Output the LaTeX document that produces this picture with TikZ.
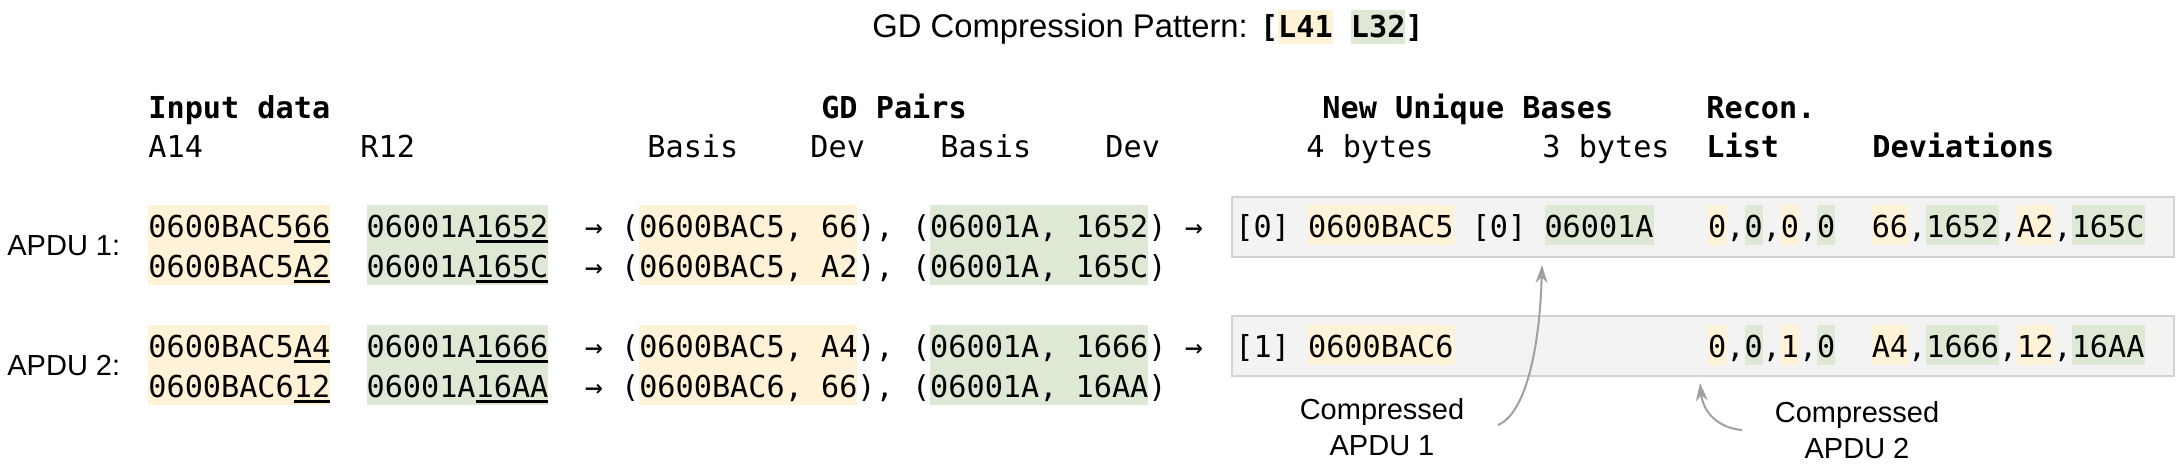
\documentclass[tikz,border=0pt]{standalone}
\usepackage{fontspec}
\setmainfont{Liberation Sans}
\newfontfamily\monof{DejaVu Sans Mono}
\usetikzlibrary{arrows.meta}
\definecolor{hyc}{HTML}{FFF2D6}
\definecolor{hgc}{HTML}{DDE8D5}
\definecolor{boxfill}{HTML}{F3F3F3}
\definecolor{boxline}{HTML}{D2D2D2}
\definecolor{arrowgray}{HTML}{A0A0A0}
\newcommand\hlst{\rule[-4pt]{0pt}{20pt}}
\newcommand\hy[1]{{\setlength\fboxsep{0pt}\colorbox{hyc}{\hlst#1}}}
\newcommand\hg[1]{{\setlength\fboxsep{0pt}\colorbox{hgc}{\hlst#1}}}
\newcommand\ty[1]{{\setlength\fboxsep{0pt}\colorbox{hyc}{\rule[-3.5pt]{0pt}{17pt}#1}}}
\newcommand\tg[1]{{\setlength\fboxsep{0pt}\colorbox{hgc}{\rule[-3.5pt]{0pt}{17pt}#1}}}
\newcommand\undl[1]{\setbox0\hbox{#1}\rlap{\rule[-3pt]{\wd0}{1.4pt}}\box0}
\begin{document}
\begin{tikzpicture}[x=0.5pt,y=-0.5pt,
  mono/.style={font=\monof\fontsize{15.1pt}{20pt}\selectfont, inner sep=0pt, anchor=base west},
  head/.style={font=\monof\bfseries\fontsize{15.1pt}{20pt}\selectfont, inner sep=0pt, anchor=base west},
  sublab/.style={font=\monof\fontsize{15.1pt}{20pt}\selectfont, inner sep=0pt, anchor=base west},
  lab/.style={font=\fontsize{14.5pt}{18pt}\selectfont, inner sep=0pt},
  cbox/.style={draw=boxline, fill=boxfill, line width=1pt, minimum width=471pt, minimum height=30pt, inner sep=0pt},
  garr/.style={draw=arrowgray, line width=1pt, -{Stealth[length=9pt,width=6pt]}}]
\useasboundingbox (0,0) rectangle (2176,472);

% title
\node[inner sep=0pt, anchor=base] (title) at (1148,37)
  {\fontsize{16.4pt}{20pt}\selectfont GD Compression Pattern: {\monof\bfseries\fontsize{15.1pt}{20pt}\selectfont [\ty{L41}~\tg{L32}]}};

% headers
\node[head] (hin) at (148,118) {Input data};
\node[sublab] (ha14) at (148,157) {A14};
\node[sublab] (hr12) at (360,157) {R12};
\node[head, anchor=base] (hgd) at (894,118) {GD Pairs};
\node[sublab] (hb1) at (647,157) {Basis};
\node[sublab] (hd1) at (810,157) {Dev};
\node[sublab] (hb2) at (940,157) {Basis};
\node[sublab] (hd2) at (1105,157) {Dev};
\node[head] (hnub) at (1322,118) {New Unique Bases};
\node[sublab] (h4b) at (1306,157) {4 bytes};
\node[sublab] (h3b) at (1542,157) {3 bytes};
\node[head] (hrec) at (1706,118) {Recon.};
\node[head] (hlist) at (1706,157) {List};
\node[head] (hdev) at (1872,157) {Deviations};

% APDU labels
\node[lab, anchor=west] (apdu1) at (7,246) {APDU 1:};
\node[lab, anchor=west] (apdu2) at (7,366) {APDU 2:};

% compressed boxes
\node[cbox] (box1) at (1703,227) {};
\node[cbox] (box2) at (1703,346) {};

% APDU 1 rows
\node[mono] (r11) at (148,237) {\hy{0600BAC5\undl{66}}~~\hg{06001A\undl{1652}}~~→~(\hy{0600BAC5,~66}),~(\hg{06001A,~1652})~→};
\node[mono] (r12) at (148,277) {\hy{0600BAC5\undl{A2}}~~\hg{06001A\undl{165C}}~~→~(\hy{0600BAC5,~A2}),~(\hg{06001A,~165C})};
% APDU 2 rows
\node[mono] (r21) at (148,357) {\hy{0600BAC5\undl{A4}}~~\hg{06001A\undl{1666}}~~→~(\hy{0600BAC5,~A4}),~(\hg{06001A,~1666})~→};
\node[mono] (r22) at (148,397) {\hy{0600BAC6\undl{12}}~~\hg{06001A\undl{16AA}}~~→~(\hy{0600BAC6,~66}),~(\hg{06001A,~16AA})};

% compressed contents
\node[mono] (c1) at (1235,237) {[0]~\hy{0600BAC5}~[0]~\hg{06001A}~~~\hy{0},\hg{0},\hy{0},\hg{0}~~\hy{66},\hg{1652},\hy{A2},\hg{165C}};
\node[mono] (c2) at (1235,357) {[1]~\hy{0600BAC6}~~~~~~~~~~~~~~\hy{0},\hg{0},\hy{1},\hg{0}~~\hy{A4},\hg{1666},\hy{12},\hg{16AA}};

% annotation labels
\node[lab, align=center] (lab1) at (1382,427) {Compressed\\APDU 1};
\node[lab, align=center] (lab2) at (1857,430) {Compressed\\APDU 2};

\coordinate (a1s) at (1498,425);
\coordinate (a1e) at (1542,265);
\coordinate (a2s) at (1742,430);
\coordinate (a2e) at (1700,383);
\draw[garr] (a1s) .. controls (1528,412) and (1540,340) .. (a1e);
\draw[garr] (a2s) .. controls (1718,428) and (1703,412) .. (a2e);
\end{tikzpicture}
\end{document}
